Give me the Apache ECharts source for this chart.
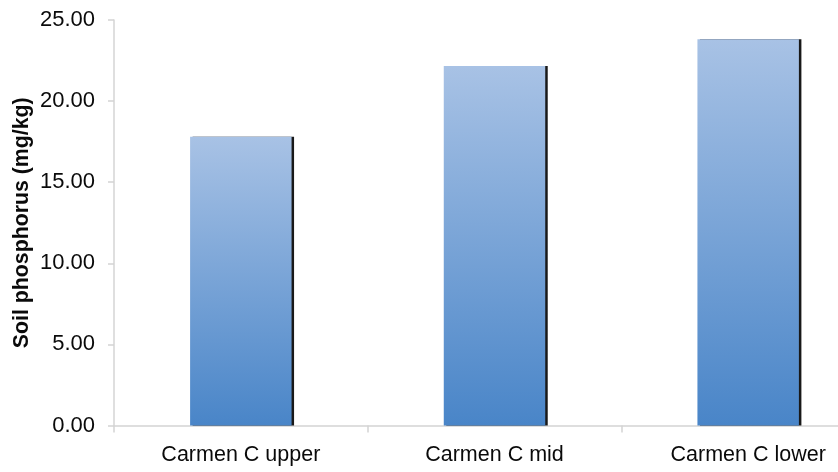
<!DOCTYPE html>
<html>
<head>
<meta charset="utf-8">
<script src="https://cdn.jsdelivr.net/npm/echarts@6/dist/echarts.min.js"></script>
<style>
  html, body { margin: 0; padding: 0; background: #fff; }
  #chart { width: 838px; height: 472px; }
</style>
</head>
<body>
<div id="chart"></div>
<script>
// Soil phosphorus by Carmen C slope position
const categories = ['Carmen C upper', 'Carmen C mid', 'Carmen C lower'];
const phosphorus = [17.80, 22.16, 23.81];
const yTicks = { min: 0, max: 25, step: 5 };
const yTitle = 'Soil phosphorus (mg/kg)';

const font = '"Liberation Sans", Arial, sans-serif';
const axisGrey = '#d4d4d4';

const chart = echarts.init(document.getElementById('chart'), null, { renderer: 'canvas' });

chart.setOption({
  animation: false,
  backgroundColor: '#ffffff',
  // the plot runs past the right edge of the canvas, so the last band is cut off
  grid: {
    left: 114, width: 761, top: 20, bottom: 46.5,
    containLabel: false, outerBoundsMode: 'none'
  },
  xAxis: {
    type: 'category',
    data: categories,
    boundaryGap: true,
    axisLine: { show: true, lineStyle: { color: axisGrey, width: 1.5 } },
    axisTick: { show: true, length: 7, lineStyle: { color: axisGrey, width: 1.5 } },
    axisLabel: { fontFamily: font, fontSize: 21.5, color: '#0a0a0a', margin: 19 },
    splitLine: { show: false }
  },
  yAxis: {
    type: 'value',
    min: yTicks.min,
    max: yTicks.max,
    interval: yTicks.step,
    name: yTitle,
    nameLocation: 'middle',
    nameRotate: 90,
    nameGap: 81,
    nameMoveOverlap: false,
    nameTextStyle: { fontFamily: font, fontSize: 21.3, fontWeight: 'bold', color: '#0a0a0a' },
    axisLine: { show: true, lineStyle: { color: axisGrey, width: 1.5 } },
    axisTick: { show: true, length: 6, lineStyle: { color: axisGrey, width: 1.5 } },
    axisLabel: {
      fontFamily: font, fontSize: 22, color: '#0a0a0a', margin: 19,
      formatter: v => v.toFixed(2)
    },
    splitLine: { show: false }
  },
  series: [{
    type: 'bar',
    data: phosphorus,
    barWidth: '40%',
    itemStyle: {
      color: new echarts.graphic.LinearGradient(0, 0, 0, 1, [
        { offset: 0, color: '#a8c2e5' },
        { offset: 1, color: '#4985c8' }
      ]),
      shadowColor: 'rgba(0,0,0,0.9)',
      shadowOffsetX: 2.5,
      shadowOffsetY: 0,
      shadowBlur: 0
    }
  }]
});
</script>
</body>
</html>
